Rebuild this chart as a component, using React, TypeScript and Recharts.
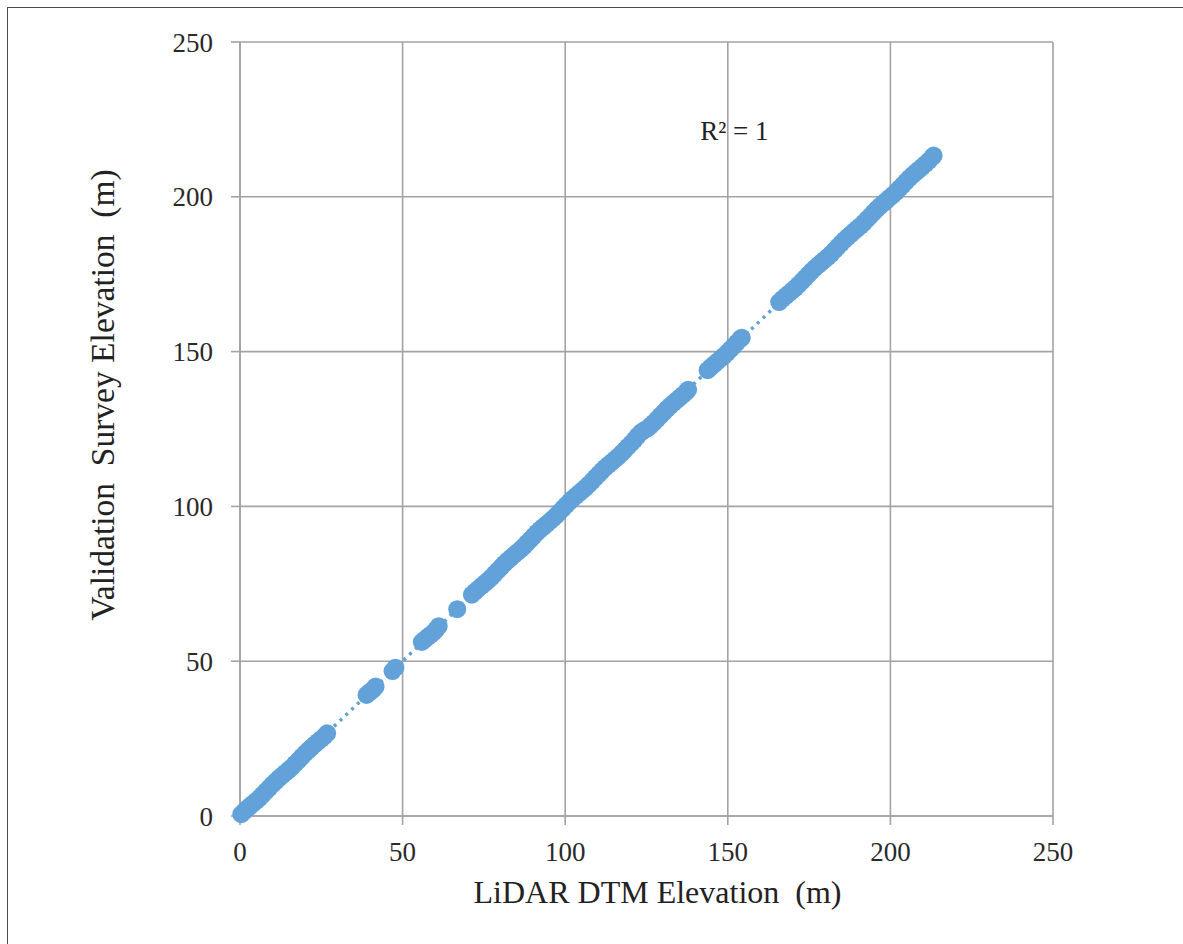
import React from 'react';
import { ScatterChart, Scatter, XAxis, YAxis, CartesianGrid, ReferenceDot, Label } from 'recharts';

// LiDAR DTM elevation (m) — x values
const lidarElevation: number[] = [
  0.4, 1.3, 2.2, 3.1, 4.0, 5.0, 6.0, 7.0, 8.0, 9.0, 10.0, 11.0, 12.0, 13.0, 14.0, 15.0, 16.0, 17.0, 18.0, 19.0,
  20.0, 21.0, 22.0, 23.0, 24.0, 25.0, 26.0, 26.8,
  38.9, 39.6, 40.3, 41.0, 41.7,
  46.9, 47.8,
  55.9, 56.8, 57.7, 58.6, 59.5, 60.3, 61.1,
  66.8,
  71.3, 72.3, 73.3, 74.3, 75.3, 76.3, 77.3, 78.3, 79.3, 80.3,
  81.3, 82.3, 83.3, 84.3, 85.3, 86.3, 87.3, 88.3, 89.3, 90.3,
  91.3, 92.3, 93.3, 94.3, 95.3, 96.3, 97.3, 98.3, 99.3, 100.3,
  101.3, 102.3, 103.3, 104.3, 105.3, 106.3, 107.3, 108.3, 109.3, 110.3,
  111.3, 112.3, 113.3, 114.3, 115.3, 116.3, 117.3, 118.3, 119.3, 120.3,
  121.3, 122.3, 123.3, 124.3, 125.3, 126.3, 127.3, 128.3, 129.3, 130.3,
  131.3, 132.3, 133.3, 134.3, 135.3, 136.3, 137.3, 137.8,
  143.8, 144.8, 145.8, 146.8, 147.8, 148.8, 149.8, 150.8, 151.8, 152.8, 153.8, 154.3,
  165.8, 166.8, 167.8, 168.8, 169.8, 170.8, 171.8, 172.8, 173.8, 174.8,
  175.8, 176.8, 177.8, 178.8, 179.8, 180.8, 181.8, 182.8, 183.8, 184.8,
  185.8, 186.8, 187.8, 188.8, 189.8, 190.8, 191.8, 192.8, 193.8, 194.8,
  195.8, 196.8, 197.8, 198.8, 199.8, 200.8, 201.8, 202.8, 203.8, 204.8,
  205.8, 206.8, 207.8, 208.8, 209.8, 210.8, 211.8, 212.8, 213.3,
];

// Validation survey elevation (m) — y values
const surveyElevation: number[] = [
  0.6, 1.5, 2.4, 3.2, 4.0, 4.9, 5.8, 6.9, 8.0, 9.1, 10.2, 11.2, 12.2, 13.1, 14.0, 14.9, 15.8, 16.9, 18.0, 19.1,
  20.2, 21.2, 22.2, 23.1, 24.0, 24.9, 25.8, 26.7,
  39.1, 39.8, 40.3, 40.9, 41.8,
  46.8, 47.9,
  56.2, 57.0, 57.8, 58.5, 59.3, 60.2, 61.3,
  66.8,
  71.5, 72.5, 73.4, 74.3, 75.2, 76.1, 77.1, 78.2, 79.3, 80.4,
  81.5, 82.5, 83.4, 84.3, 85.2, 86.1, 87.1, 88.2, 89.3, 90.4,
  91.5, 92.5, 93.4, 94.3, 95.2, 96.1, 97.1, 98.2, 99.3, 100.4,
  101.5, 102.5, 103.4, 104.3, 105.2, 106.1, 107.1, 108.2, 109.3, 110.4,
  111.5, 112.5, 113.4, 114.3, 115.2, 116.1, 117.1, 118.2, 119.3, 120.4,
  121.5, 122.8, 123.9, 124.6, 125.2, 126.1, 127.1, 128.2, 129.3, 130.4,
  131.5, 132.5, 133.4, 134.3, 135.2, 136.1, 137.1, 137.7,
  144.0, 145.0, 145.9, 146.8, 147.7, 148.6, 149.6, 150.7, 151.8, 152.9, 154.0, 154.5,
  166.0, 167.0, 167.9, 168.8, 169.7, 170.6, 171.6, 172.7, 173.8, 174.9,
  176.0, 177.0, 177.9, 178.8, 179.7, 180.6, 181.6, 182.7, 183.8, 184.9,
  186.0, 187.0, 187.9, 188.8, 189.7, 190.6, 191.6, 192.7, 193.8, 194.9,
  196.0, 197.0, 197.9, 198.8, 199.7, 200.6, 201.6, 202.7, 203.8, 204.9,
  206.0, 207.0, 207.9, 208.8, 209.7, 210.6, 211.6, 212.7, 213.3,
];

const axisTicks: number[] = [0, 50, 100, 150, 200, 250];
const xTitle = 'LiDAR DTM Elevation  (m)';
const yTitle = 'Validation  Survey Elevation  (m)';
const rSquaredText = 'R² = 1';
const rSquaredPos = { x: 152, y: 221.5 };

const points = lidarElevation.map((x, i) => ({ x, y: surveyElevation[i] }));

const BLUE = '#62a2d9';
const GRID = '#a3a3a3';
const FONT = 'Liberation Serif';

const Dot = (props: any) => {
  const { cx, cy } = props;
  if (cx == null || cy == null) return null;
  return <circle cx={cx} cy={cy} r={9} fill={BLUE} />;
};

const XTitle = (props: any) => {
  const vb = props.viewBox || { x: 240, y: 816, width: 813, height: 60 };
  return (
    <text
      x={vb.x + vb.width / 2 + 11}
      y={vb.y + 87}
      textAnchor="middle"
      fontSize={32}
      fontFamily={FONT}
      fill="#222"
      style={{ whiteSpace: 'pre', fontFamily: FONT }}
    >
      {xTitle}
    </text>
  );
};

const YTitle = (props: any) => {
  const vb = props.viewBox || { x: 0, y: 42, width: 240, height: 774 };
  const x = vb.x + 114;
  const y = vb.y + vb.height / 2 - 34;
  return (
    <text
      x={x}
      y={y}
      transform={`rotate(-90, ${x}, ${y})`}
      textAnchor="middle"
      fontSize={33.5}
      fontFamily={FONT}
      fill="#222"
      style={{ whiteSpace: 'pre', fontFamily: FONT }}
    >
      {yTitle}
    </text>
  );
};

export default function App() {
  const tickStyle = { fontSize: 27, fill: '#2a2a2a', fontFamily: FONT, style: { fontFamily: FONT } };
  return (
    <div style={{ position: 'absolute', left: 0, top: 0, width: 1183, height: 944, background: '#fff', fontFamily: FONT }}>
      <div
        style={{
          position: 'absolute',
          left: 7,
          top: 7,
          width: 1176,
          height: 937,
          borderTop: '1px solid #4a4a4a',
          borderLeft: '1px solid #4a4a4a',
          boxSizing: 'border-box',
        }}
      />
      <div style={{ position: 'absolute', left: 0, top: 0 }}>
        <ScatterChart
          width={1183}
          height={944}
          margin={{ top: 42, right: 130, bottom: 68, left: 0 }}
          style={{ fontFamily: FONT }}
        >
          <CartesianGrid stroke={GRID} strokeWidth={1.6} />
          <XAxis
            type="number"
            dataKey="x"
            domain={[0, 250]}
            ticks={axisTicks}
            height={60}
            tickSize={9}
            tickMargin={17}
            tick={tickStyle}
            stroke={GRID}
            strokeWidth={1.6}
            tickLine={{ stroke: GRID, strokeWidth: 1.6 }}
            axisLine={{ stroke: GRID, strokeWidth: 1.6 }}
          >
            <Label content={XTitle} />
          </XAxis>
          <YAxis
            type="number"
            dataKey="y"
            domain={[0, 250]}
            ticks={axisTicks}
            width={240}
            tickSize={9}
            tickMargin={18}
            tick={tickStyle}
            stroke={GRID}
            strokeWidth={1.6}
            tickLine={{ stroke: GRID, strokeWidth: 1.6 }}
            axisLine={{ stroke: GRID, strokeWidth: 1.6 }}
          >
            <Label content={YTitle} />
          </YAxis>
          <Scatter
            data={points}
            fill={BLUE}
            shape={Dot}
            line={{ stroke: BLUE, strokeWidth: 3.5, strokeDasharray: '3 5' }}
            lineType="fitting"
            isAnimationActive={false}
          />
          <ReferenceDot
            x={rSquaredPos.x}
            y={rSquaredPos.y}
            r={0}
            fill="none"
            stroke="none"
            label={{ value: rSquaredText, position: 'center', fontSize: 27, fill: '#222', fontFamily: FONT }}
          />
        </ScatterChart>
      </div>
    </div>
  );
}
